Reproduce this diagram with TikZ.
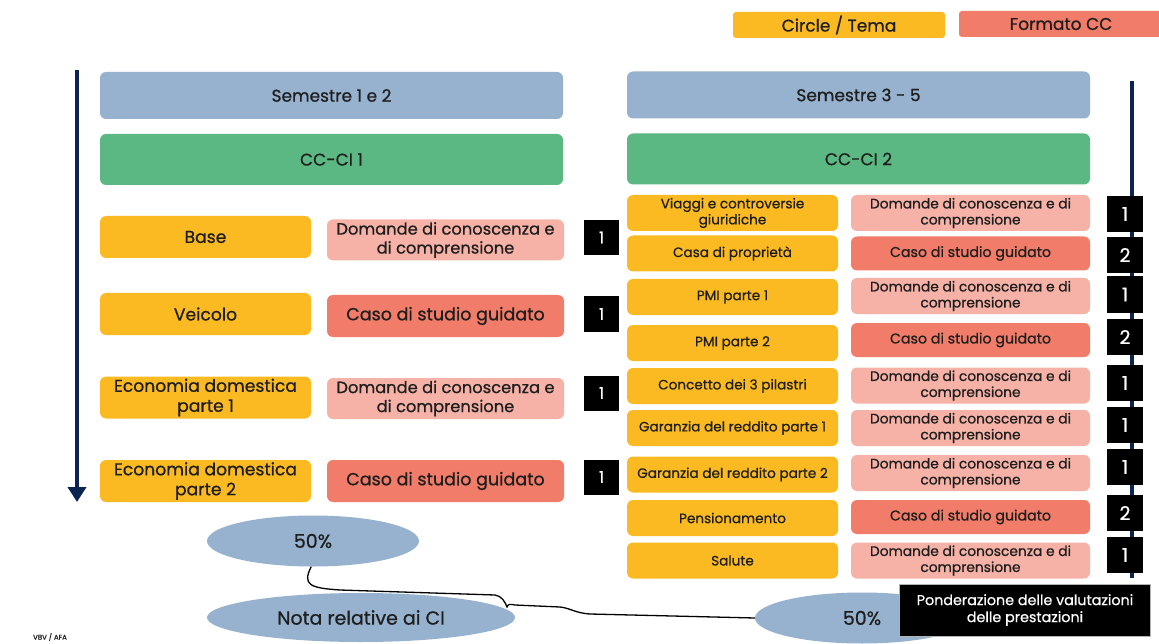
\documentclass[tikz,border=0pt]{standalone}
\usepackage{fontspec}
\setmainfont{Poppins}[FakeBold=0.7]
\usetikzlibrary{arrows.meta,shapes.geometric}
\definecolor{semblue}{HTML}{97B2CE}
\definecolor{ccgreen}{HTML}{5BB883}
\definecolor{topicyellow}{HTML}{FBBA22}
\definecolor{dkpink}{HTML}{F6B2A7}
\definecolor{cssalmon}{HTML}{F07C69}
\definecolor{navy}{HTML}{0B2350}
\definecolor{textdark}{HTML}{1E1E1E}
\newcommand\dkleft{Domande di conoscenza e\\di comprensione}
\newcommand\dkright{Domande di conoscenza e di\\comprensione}
\newcommand\cstext{Caso di studio guidato}
\tikzset{
  tile/.style={rounded corners=6pt,inner sep=0pt,align=center,text=textdark},
  sembox/.style={tile,fill=semblue,minimum width=463pt,minimum height=47pt,font=\fontsize{17}{20}\selectfont},
  ccbox/.style={tile,fill=ccgreen,minimum width=463pt,minimum height=51pt,font=\fontsize{17}{20}\selectfont},
  legbox/.style={tile,rounded corners=3pt,minimum height=26pt,font=\fontsize{17}{20}\selectfont},
  topicL/.style={tile,fill=topicyellow,minimum width=211pt,minimum height=42pt,font=\fontsize{17.2}{20}\selectfont},
  dkL/.style={tile,fill=dkpink,minimum width=237pt,minimum height=41pt,font=\fontsize{16.3}{19}\selectfont},
  csL/.style={dkL,fill=cssalmon,minimum height=42pt,font=\fontsize{17.5}{20}\selectfont},
  topicR/.style={tile,fill=topicyellow,minimum width=211pt,minimum height=36pt,font=\fontsize{13.6}{16}\selectfont},
  dkR/.style={tile,fill=dkpink,minimum width=239pt,minimum height=36pt,font=\fontsize{13.8}{16}\selectfont},
  csR/.style={dkR,fill=cssalmon,minimum height=34pt,font=\fontsize{14.2}{16.5}\selectfont},
  numL/.style={fill=black,text=white,inner sep=0pt,minimum size=35pt,font=\fontsize{16}{19}\selectfont},
  numR/.style={numL,minimum size=36pt,font=\fontsize{19}{22}\selectfont},
  share/.style={ellipse,fill=semblue,inner sep=0pt,text=textdark,font=\fontsize{19}{22}\selectfont},
}
\begin{document}
\begin{tikzpicture}[x=1pt,y=-1pt]
\useasboundingbox[fill=white](0,0)rectangle(1159,644);
%legend
\node[legbox,fill=topicyellow,minimum width=212pt](legtema)at(839,25){Circle / Tema};
\node[legbox,fill=cssalmon,minimum width=204pt](legcc)at(1061,24){Formato CC};
%time lines
\coordinate(arrtop)at(77,70);
\coordinate(arrend)at(77,502);
\draw[navy,line width=4pt,-{Triangle[width=18pt,length=15pt]}](arrtop)--(arrend);
\coordinate(linetop)at(1132,81);
\coordinate(lineend)at(1132,578);
\draw[navy,line width=4pt](linetop)--(lineend);
%headers
\node[sembox](semA)at(331.5,95.5){Semestre 1 e 2};
\node[sembox](semB)at(858.5,95){Semestre 3 - 5};
\node[ccbox](ccA)at(331.5,159.5){CC-CI 1};
\node[ccbox](ccB)at(858.5,159){CC-CI 2};
%semester 1 and 2
\foreach \i/\ty/\fy/\by/\lbl/\fst/\ftx in {
  1/237/240/237.5/{Base}/dkL/\dkleft,
  2/314/316/314/{Veicolo}/csL/\cstext,
  3/397.5/398.5/393/{Economia domestica\\parte 1}/dkL/\dkleft,
  4/481/481/477/{Economia domestica\\parte 2}/csL/\cstext}{
  \node[topicL](lt\i)at(205.5,\ty){\lbl};
  \node[\fst](lf\i)at(445.5,\fy){\ftx};
  \node[numL](ln\i)at(601.5,\by){1};
}
%semester 3 to 5
\foreach \i/\ty/\fy/\by/\lbl/\fst/\ftx/\num in {
  1/213/213/214/{Viaggi e controversie\\giuridiche}/dkR/\dkright/1,
  2/253.5/253.5/255/{Casa di proprietà}/csR/\cstext/2,
  3/297/296/294.5/{PMI parte 1}/dkR/\dkright/1,
  4/343/340/337/{PMI parte 2}/csR/\cstext/2,
  5/386/385.5/383/{Concetto dei 3 pilastri}/dkR/\dkright/1,
  6/428/428/425/{Garanzia del reddito parte 1}/dkR/\dkright/1,
  7/474.5/473/467/{Garanzia del reddito parte 2}/dkR/\dkright/1,
  8/518/517/513/{Pensionamento}/csR/\cstext/2,
  9/560.5/560.5/555/{Salute}/dkR/\dkright/1}{
  \node[topicR](rt\i)at(732.5,\ty){\lbl};
  \node[\fst](rf\i)at(970.5,\fy){\ftx};
  \node[numR](rn\i)at(1125,\by){\num};
}
%weighting
\node[share,minimum width=212pt,minimum height=51pt](l50)at(313,541){50\%};
\node[share,minimum width=308pt,minimum height=49pt](nota)at(361,617.5){Nota relative ai CI};
\node[share,minimum width=214pt,minimum height=51pt](r50)at(862,618){50\%};
\node[fill=black,draw=gray!60,text=white,inner sep=0pt,minimum width=251pt,minimum height=52pt,align=center,font=\fontsize{14.3}{17}\selectfont](pond)at(1025,610){Ponderazione delle valutazioni\\delle prestazioni};
\draw[line width=1.3pt](l50.266)..controls(302,585)and(310,588)..(340,590)--(495,595)
  ..controls(502,596)and(505,602)..(507,607)..controls(508,604)and(510,604)..(515,605)
  --(560,607)..controls(570,608)and(575,613)..(590,614)--(r50.west);
\node[font=\fontsize{7}{8}\selectfont,text=textdark](src)at(50,637){VBV / AFA};
\end{tikzpicture}
\end{document}
